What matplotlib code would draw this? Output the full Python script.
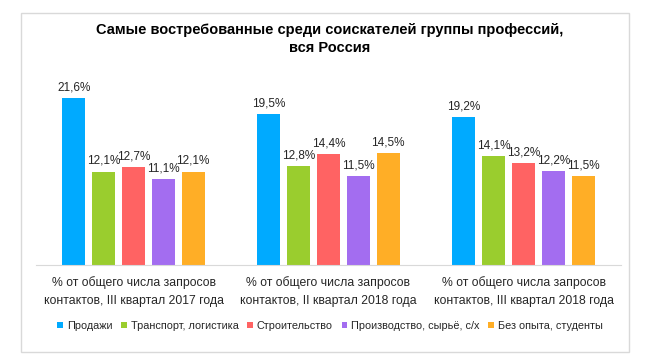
import matplotlib.pyplot as plt
from matplotlib.patches import Rectangle
import numpy as np

plt.rcParams['font.family'] = ['Liberation Sans', 'DejaVu Sans']

periods = ['% от общего числа запросов\nконтактов, III квартал 2017 года',
           '% от общего числа запросов\nконтактов, II квартал 2018 года',
           '% от общего числа запросов\nконтактов, III квартал 2018 года']
series = ['Продажи', 'Транспорт, логистика', 'Строительство',
          'Производство, сырьё, с/х', 'Без опыта, студенты']
sales = [21.6, 19.5, 19.2]
transport = [12.1, 12.8, 14.1]
construction = [12.7, 14.4, 13.2]
production = [11.1, 11.5, 12.2]
no_experience = [12.1, 14.5, 11.5]
values = [sales, transport, construction, production, no_experience]
colors = ['#00AAFF', '#9ACD2E', '#FF6363', '#A36DF0', '#FFAE26']

fig = plt.figure(figsize=(6.6, 3.62), dpi=100)
# light frame around the chart
fig.patches.append(Rectangle((21 / 660, 1 - 352 / 362), 608 / 660, 339 / 362,
                             transform=fig.transFigure, fill=False,
                             edgecolor='#D9D9D9', linewidth=1))

ax = fig.add_axes([36 / 660, 97 / 362, 585 / 660, 180 / 362])

x = np.arange(len(periods))
step = 0.153
width = 0.118
for i, (name, vals, c) in enumerate(zip(series, values, colors)):
    pos = x + (i - 2) * step
    bars = ax.bar(pos, vals, width, color=c, label=name)
    for b, v in zip(bars, vals):
        ax.text(b.get_x() + b.get_width() / 2, v + 0.6, f'{v:.1f}%'.replace('.', ','),
                ha='center', va='bottom', fontsize=8.5, color='#262626')

ax.set_xlim(-0.5, 2.5)
ax.set_ylim(0, 23.3)
ax.set_yticks([])
ax.set_xticks(x)
ax.set_xticklabels(periods, fontsize=8.8, color='#262626', linespacing=1.7)
ax.tick_params(axis='x', length=0, pad=8)
for s in ['top', 'right', 'left']:
    ax.spines[s].set_visible(False)
ax.spines['bottom'].set_color('#D9D9D9')

fig.text(0.5, 1 - 39 / 362, 'Самые востребованные среди соискателей группы профессий,\nвся Россия',
         ha='center', va='center', fontsize=10.5, fontweight='bold', linespacing=1.35)

fig.legend(loc='center', bbox_to_anchor=(0.50, 1 - 326 / 362), ncol=5, frameon=False,
           fontsize=7.8, handlelength=0.55, handleheight=0.55, handletextpad=0.35,
           columnspacing=0.8, labelcolor='#262626')

fig.savefig('out.png', dpi=100)
